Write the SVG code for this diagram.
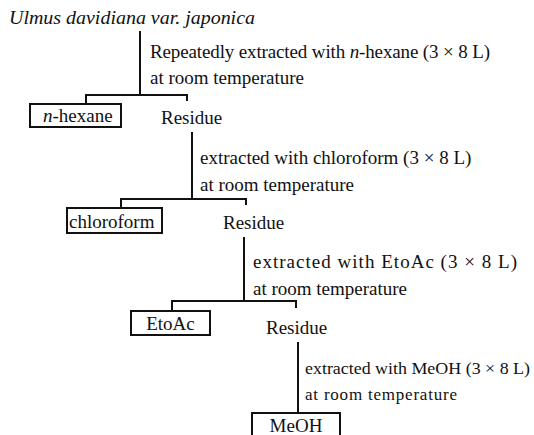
<svg xmlns="http://www.w3.org/2000/svg" width="534" height="435" viewBox="0 0 534 435">
<style>
text{font-family:"Liberation Serif","DejaVu Serif",serif;font-size:19px;fill:#111}
.it{font-style:italic}
.sm{font-size:17px}
.box{fill:none;stroke:#111;stroke-width:2}
.ln{fill:none;stroke:#111;stroke-width:2}
</style>
<rect width="534" height="435" fill="#fff"/>
<g id="title"><text class="it" x="9" y="24" textLength="246" lengthAdjust="spacingAndGlyphs">Ulmus davidiana var. japonica</text></g>
<g id="connectors">
<path class="ln" d="M140 31V95M86 104V95H187V101"/>
<path class="ln" d="M192 132V199M121 208V199H246V205"/>
<path class="ln" d="M244 237V301M172 311V301H296V308"/>
<path class="ln" d="M298 342V413"/>
</g>
<g id="step1-label"><text x="150" y="58" textLength="340">Repeatedly extracted with <tspan class="it">n</tspan>-hexane (3 × 8 L)</text><text x="150" y="84">at room temperature</text></g>
<g id="hexane"><rect class="box" x="30" y="104" width="91" height="23"/><text x="43" y="122"><tspan class="it">n</tspan>-hexane</text></g>
<g id="residue1"><text x="161" y="124">Residue</text></g>
<g id="step2-label"><text x="200" y="164">extracted with chloroform (3 × 8 L)</text><text x="200" y="191">at room temperature</text></g>
<g id="chloroform"><rect class="box" x="67" y="208" width="95" height="25"/><text x="69" y="228">chloroform</text></g>
<g id="residue2"><text x="223" y="229">Residue</text></g>
<g id="step3-label"><text x="253" y="268" textLength="264">extracted with EtoAc (3 × 8 L)</text><text x="253" y="295">at room temperature</text></g>
<g id="etoac"><rect class="box" x="131" y="311" width="79" height="24"/><text x="170.5" y="330" text-anchor="middle">EtoAc</text></g>
<g id="residue3"><text x="266" y="334">Residue</text></g>
<g id="step4-label"><text x="305" y="374" class="sm" textLength="225" lengthAdjust="spacingAndGlyphs">extracted with MeOH (3 × 8 L)</text><text x="305" y="400" class="sm" textLength="152">at room temperature</text></g>
<g id="meoh"><rect class="box" x="252" y="413" width="88" height="30"/><text x="296" y="432" text-anchor="middle">MeOH</text></g>
</svg>
